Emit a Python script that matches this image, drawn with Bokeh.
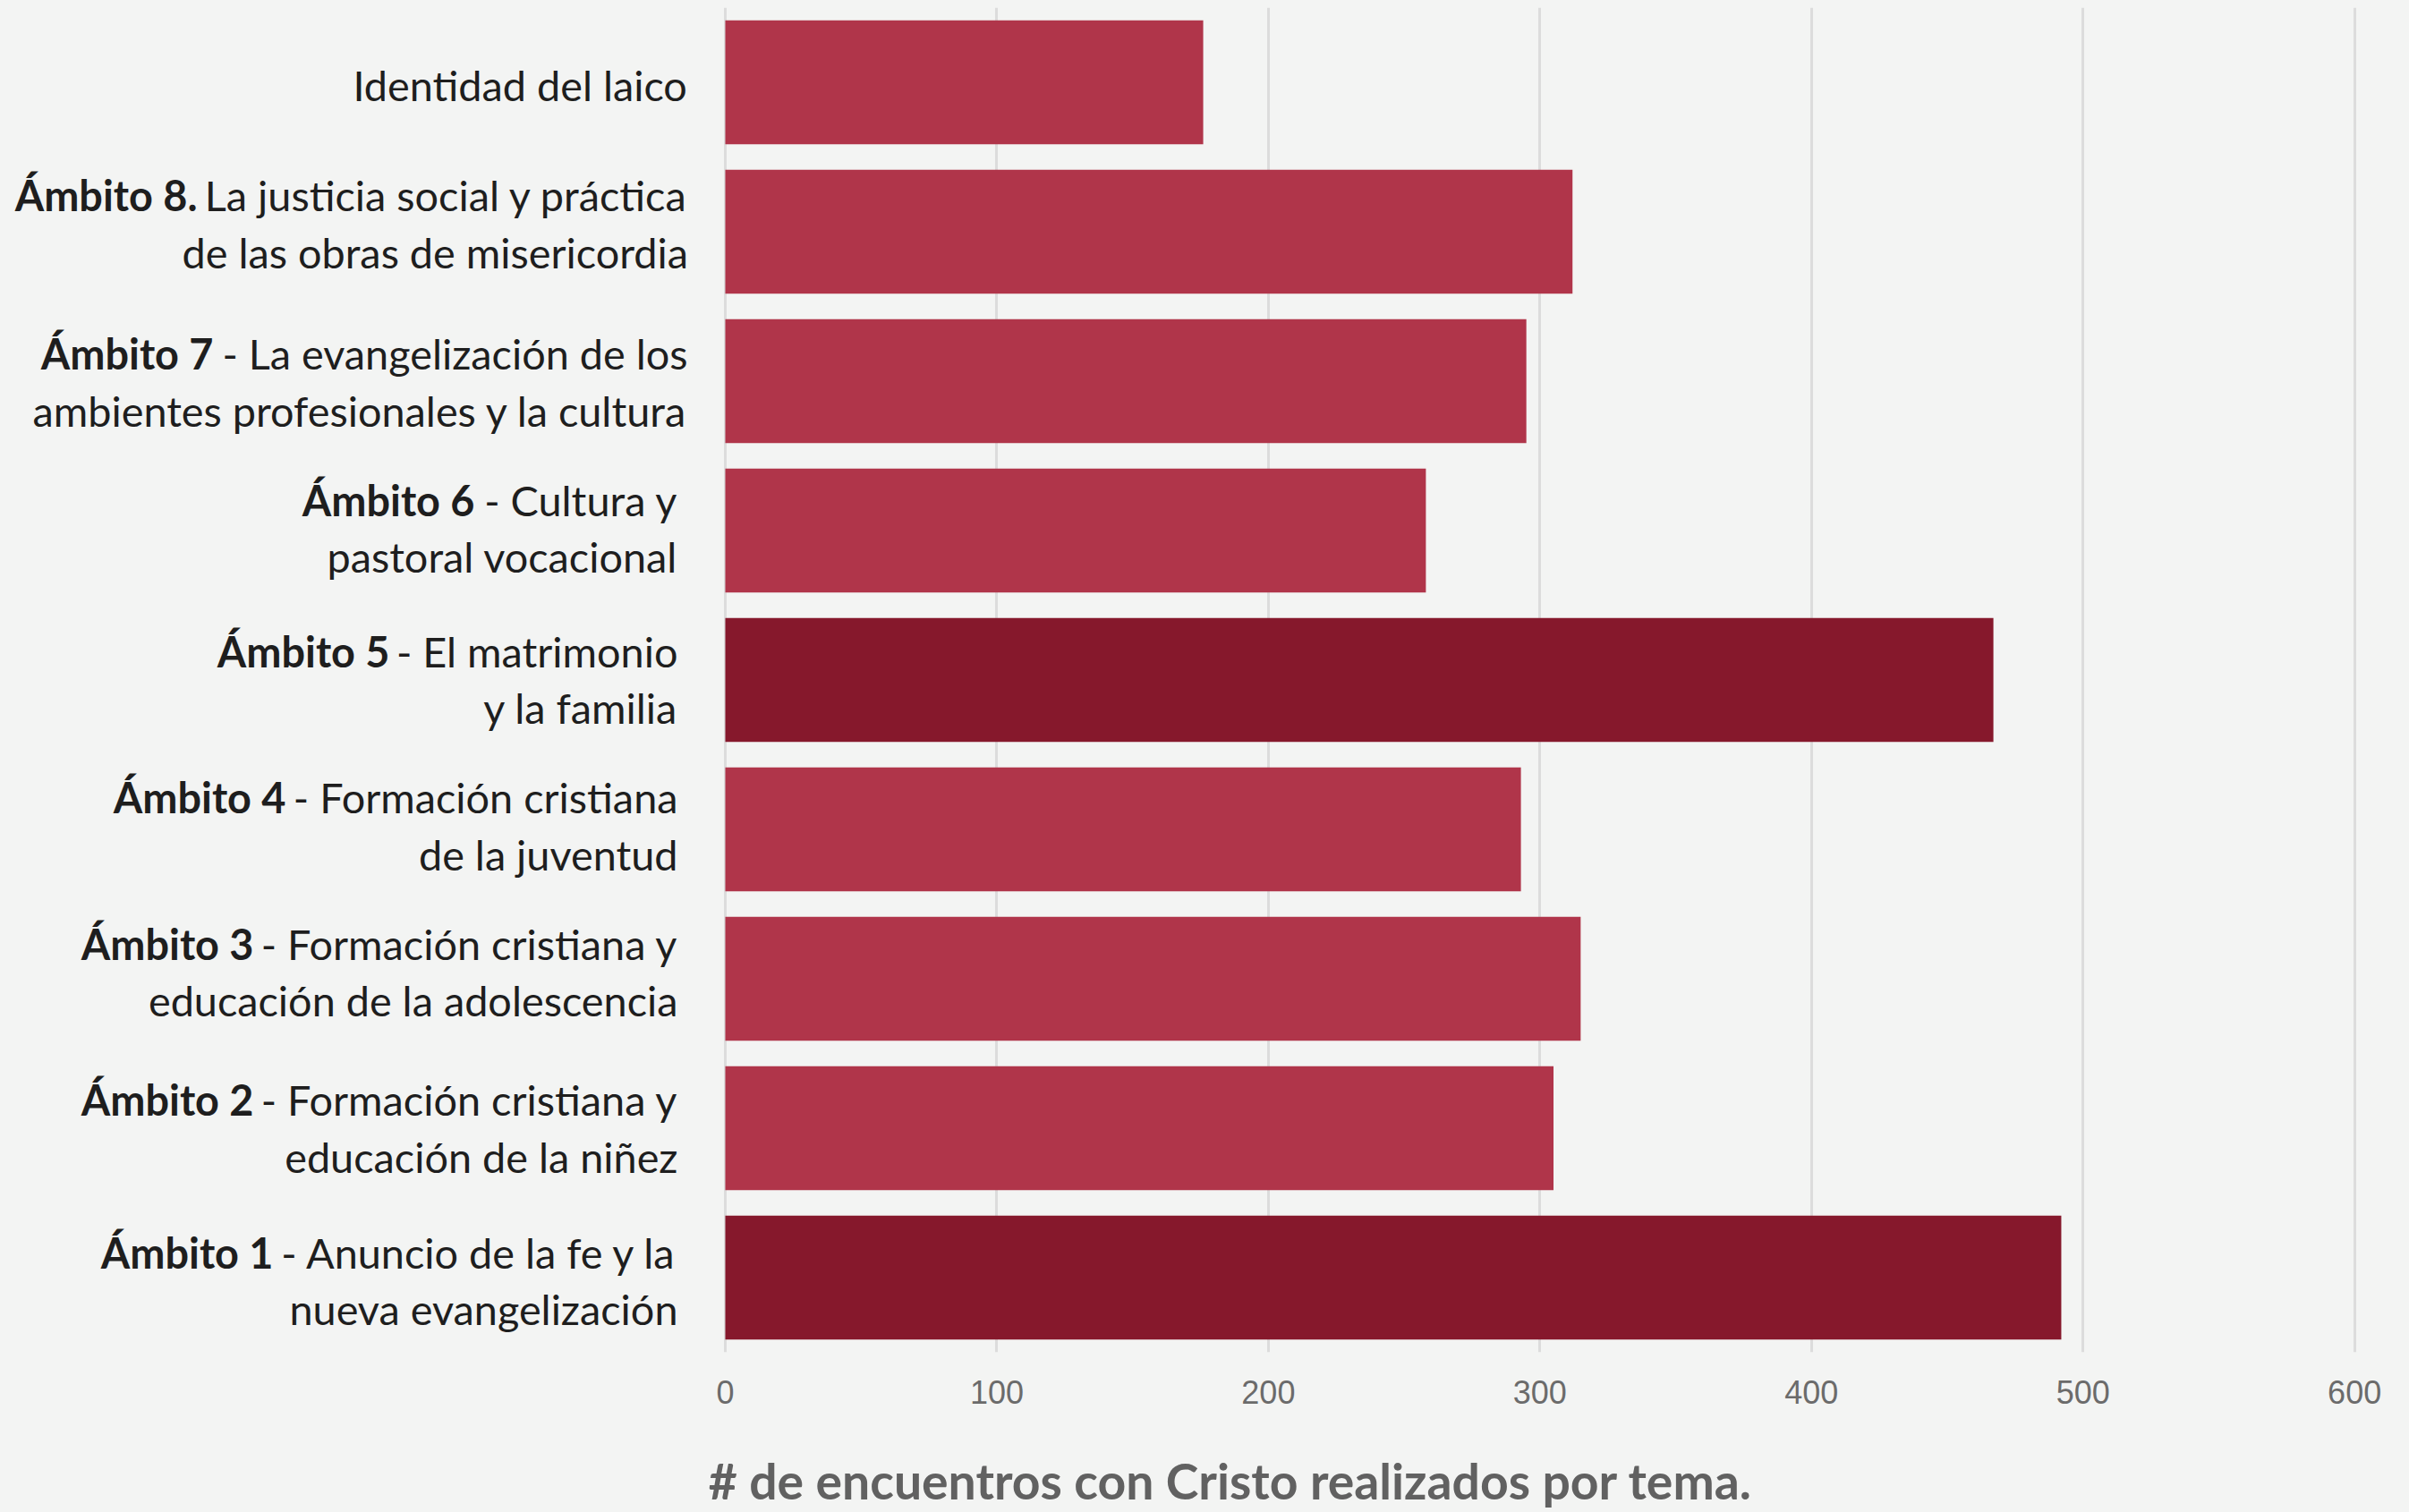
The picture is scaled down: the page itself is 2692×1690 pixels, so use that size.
from bokeh.plotting import figure
from bokeh.models import Range1d, FixedTicker, ColumnDataSource
from bokeh.layouts import column
from bokeh.core.properties import value
from bokeh.embed import file_html
from bokeh.resources import INLINE

# ---------------- data (top to bottom as shown) ----------------
categories = ["Identidad del laico", "Ámbito 8", "Ámbito 7", "Ámbito 6", "Ámbito 5",
              "Ámbito 4", "Ámbito 3", "Ámbito 2", "Ámbito 1"]
values = [176, 312, 295, 258, 467, 293, 315, 305, 492]
label_bold = ["", "Ámbito 8.", "Ámbito 7", "Ámbito 6", "Ámbito 5",
              "Ámbito 4", "Ámbito 3", "Ámbito 2", "Ámbito 1"]
label_line1 = ["Identidad del laico", "La justicia social y práctica",
               "- La evangelización de los", "- Cultura y", "- El matrimonio",
               "- Formación cristiana", "- Formación cristiana y",
               "- Formación cristiana y", "- Anuncio de la fe y la"]
label_line2 = ["", "de las obras de misericordia", "ambientes profesionales y la cultura",
               "pastoral vocacional", "y la familia", "de la juventud",
               "educación de la adolescencia", "educación de la niñez",
               "nueva evangelización"]
highlight = ["Ámbito 5", "Ámbito 1"]
x_ticks = [0, 100, 200, 300, 400, 500, 600]
axis_title = "# de encuentros con Cristo realizados por tema."

# ---------------- style / layout ----------------
BG = "#F3F4F3"
LIGHT = "#B0354A"
DARK = "#86182C"
TEXT = "#1E1E1E"
FONT = "Lato"
LABEL_SIZE = "46.8px"
LINE_GAP = 31.75          # px between a label line centre and the bar centre

W = 2684
H_MAIN = 1580
H_TITLE = 110
FRAME_LEFT_PX = 810       # where value 0 sits
BORDER_RIGHT = 23
BORDER_TOP = 8
FRAME_BOTTOM_PX = 1511
X_MAX = 610

frame_w = W - BORDER_RIGHT
sx = (frame_w - FRAME_LEFT_PX) / X_MAX          # px per unit
x_min = -FRAME_LEFT_PX / sx
n = len(categories)
sy = (FRAME_BOTTOM_PX - BORDER_TOP) / n         # px per category

ys = [n - 1 - i for i in range(n)]
colors = [DARK if c in highlight else LIGHT for c in categories]

# label layout (screen px relative to value 0 / bar centre)
right_off = [-42.6, -41.5, -42.0, -53, -53, -53, -53, -53, -53]
junction_off = [0, -590, -572, -280, -375, -491, -527, -527, -505]
nudge = [-2.8, 9.2, -1.1, 2.4, 0.6, 4.1, 7.5, -0.2, -3.6]

p = figure(width=W, height=H_MAIN,
           x_range=Range1d(x_min, X_MAX), y_range=Range1d(-0.5, n - 0.5),
           output_backend="svg", toolbar_location=None,
           min_border_left=0, min_border_right=BORDER_RIGHT,
           min_border_top=BORDER_TOP, min_border_bottom=H_MAIN - FRAME_BOTTOM_PX,
           background_fill_color=BG, border_fill_color=BG,
           outline_line_color=None)

src = ColumnDataSource(dict(y=ys, v=values, c=colors, cat=categories))
p.hbar(y="y", left=0, right="v", height=0.83, fill_color="c", line_color=None, source=src)

p.yaxis.visible = False
p.ygrid.visible = False
ticker = FixedTicker(ticks=x_ticks)
p.xaxis.ticker = ticker
p.xgrid.ticker = ticker
p.xgrid.grid_line_color = "#DCDCDC"
p.xgrid.grid_line_width = 3
p.xaxis.axis_line_color = None
p.xaxis.major_tick_line_color = None
p.xaxis.minor_tick_line_color = None
p.xaxis.major_label_text_font = "Liberation Sans"
p.xaxis.major_label_text_font_size = "36px"
p.xaxis.major_label_text_color = "#6B6B6B"
p.xaxis.major_label_standoff = 25

# category labels (normal part right aligned, bold prefix ending at the junction)
nx, ny, nt = [], [], []
bx, by, bt = [], [], []
for i in range(n):
    if label_line2[i]:
        offs = [LINE_GAP + nudge[i], -LINE_GAP + nudge[i]]
        lines = [label_line1[i], label_line2[i]]
    else:
        offs = [nudge[i]]
        lines = [label_line1[i]]
    for txt, yo in zip(lines, offs):
        nx.append(right_off[i] / sx)
        ny.append(ys[i] + yo / sy)
        nt.append(txt)
    if label_bold[i]:
        bx.append(junction_off[i] / sx)
        by.append(ys[i] + offs[0] / sy)
        bt.append(label_bold[i])

p.text(x="x", y="y", text="t", source=ColumnDataSource(dict(x=nx, y=ny, t=nt)),
       text_align="right", text_baseline="middle", text_font=value(FONT),
       text_font_size=value(LABEL_SIZE), text_color=TEXT)
p.text(x="x", y="y", text="t", source=ColumnDataSource(dict(x=bx, y=by, t=bt)),
       text_align="right", text_baseline="middle", text_font=value(FONT),
       text_font_size=value(LABEL_SIZE), text_font_style="bold", text_color=TEXT)

# axis title strip (pixel-mapped figure directly under the chart)
TITLE_X = FRAME_LEFT_PX - 12
TITLE_MID_FROM_BOTTOM = 36
t = figure(width=W, height=H_TITLE, x_range=Range1d(0, W), y_range=Range1d(0, H_TITLE),
           output_backend="svg", toolbar_location=None,
           min_border_left=0, min_border_right=0, min_border_top=0, min_border_bottom=0,
           background_fill_color=BG, border_fill_color=BG, outline_line_color=None)
t.axis.visible = False
t.grid.visible = False
t.text(x=[TITLE_X], y=[TITLE_MID_FROM_BOTTOM], text=[axis_title],
       text_align="left", text_baseline="middle", text_font=value(FONT),
       text_font_size=value("55.3px"), text_font_style="bold", text_color="#616161")

layout = column(p, t, spacing=0)

html = file_html(layout, INLINE)
html = html.replace("<head>", "<head><style>html,body{background:%s;}</style>" % BG, 1)
open("out.html", "w").write(html)
